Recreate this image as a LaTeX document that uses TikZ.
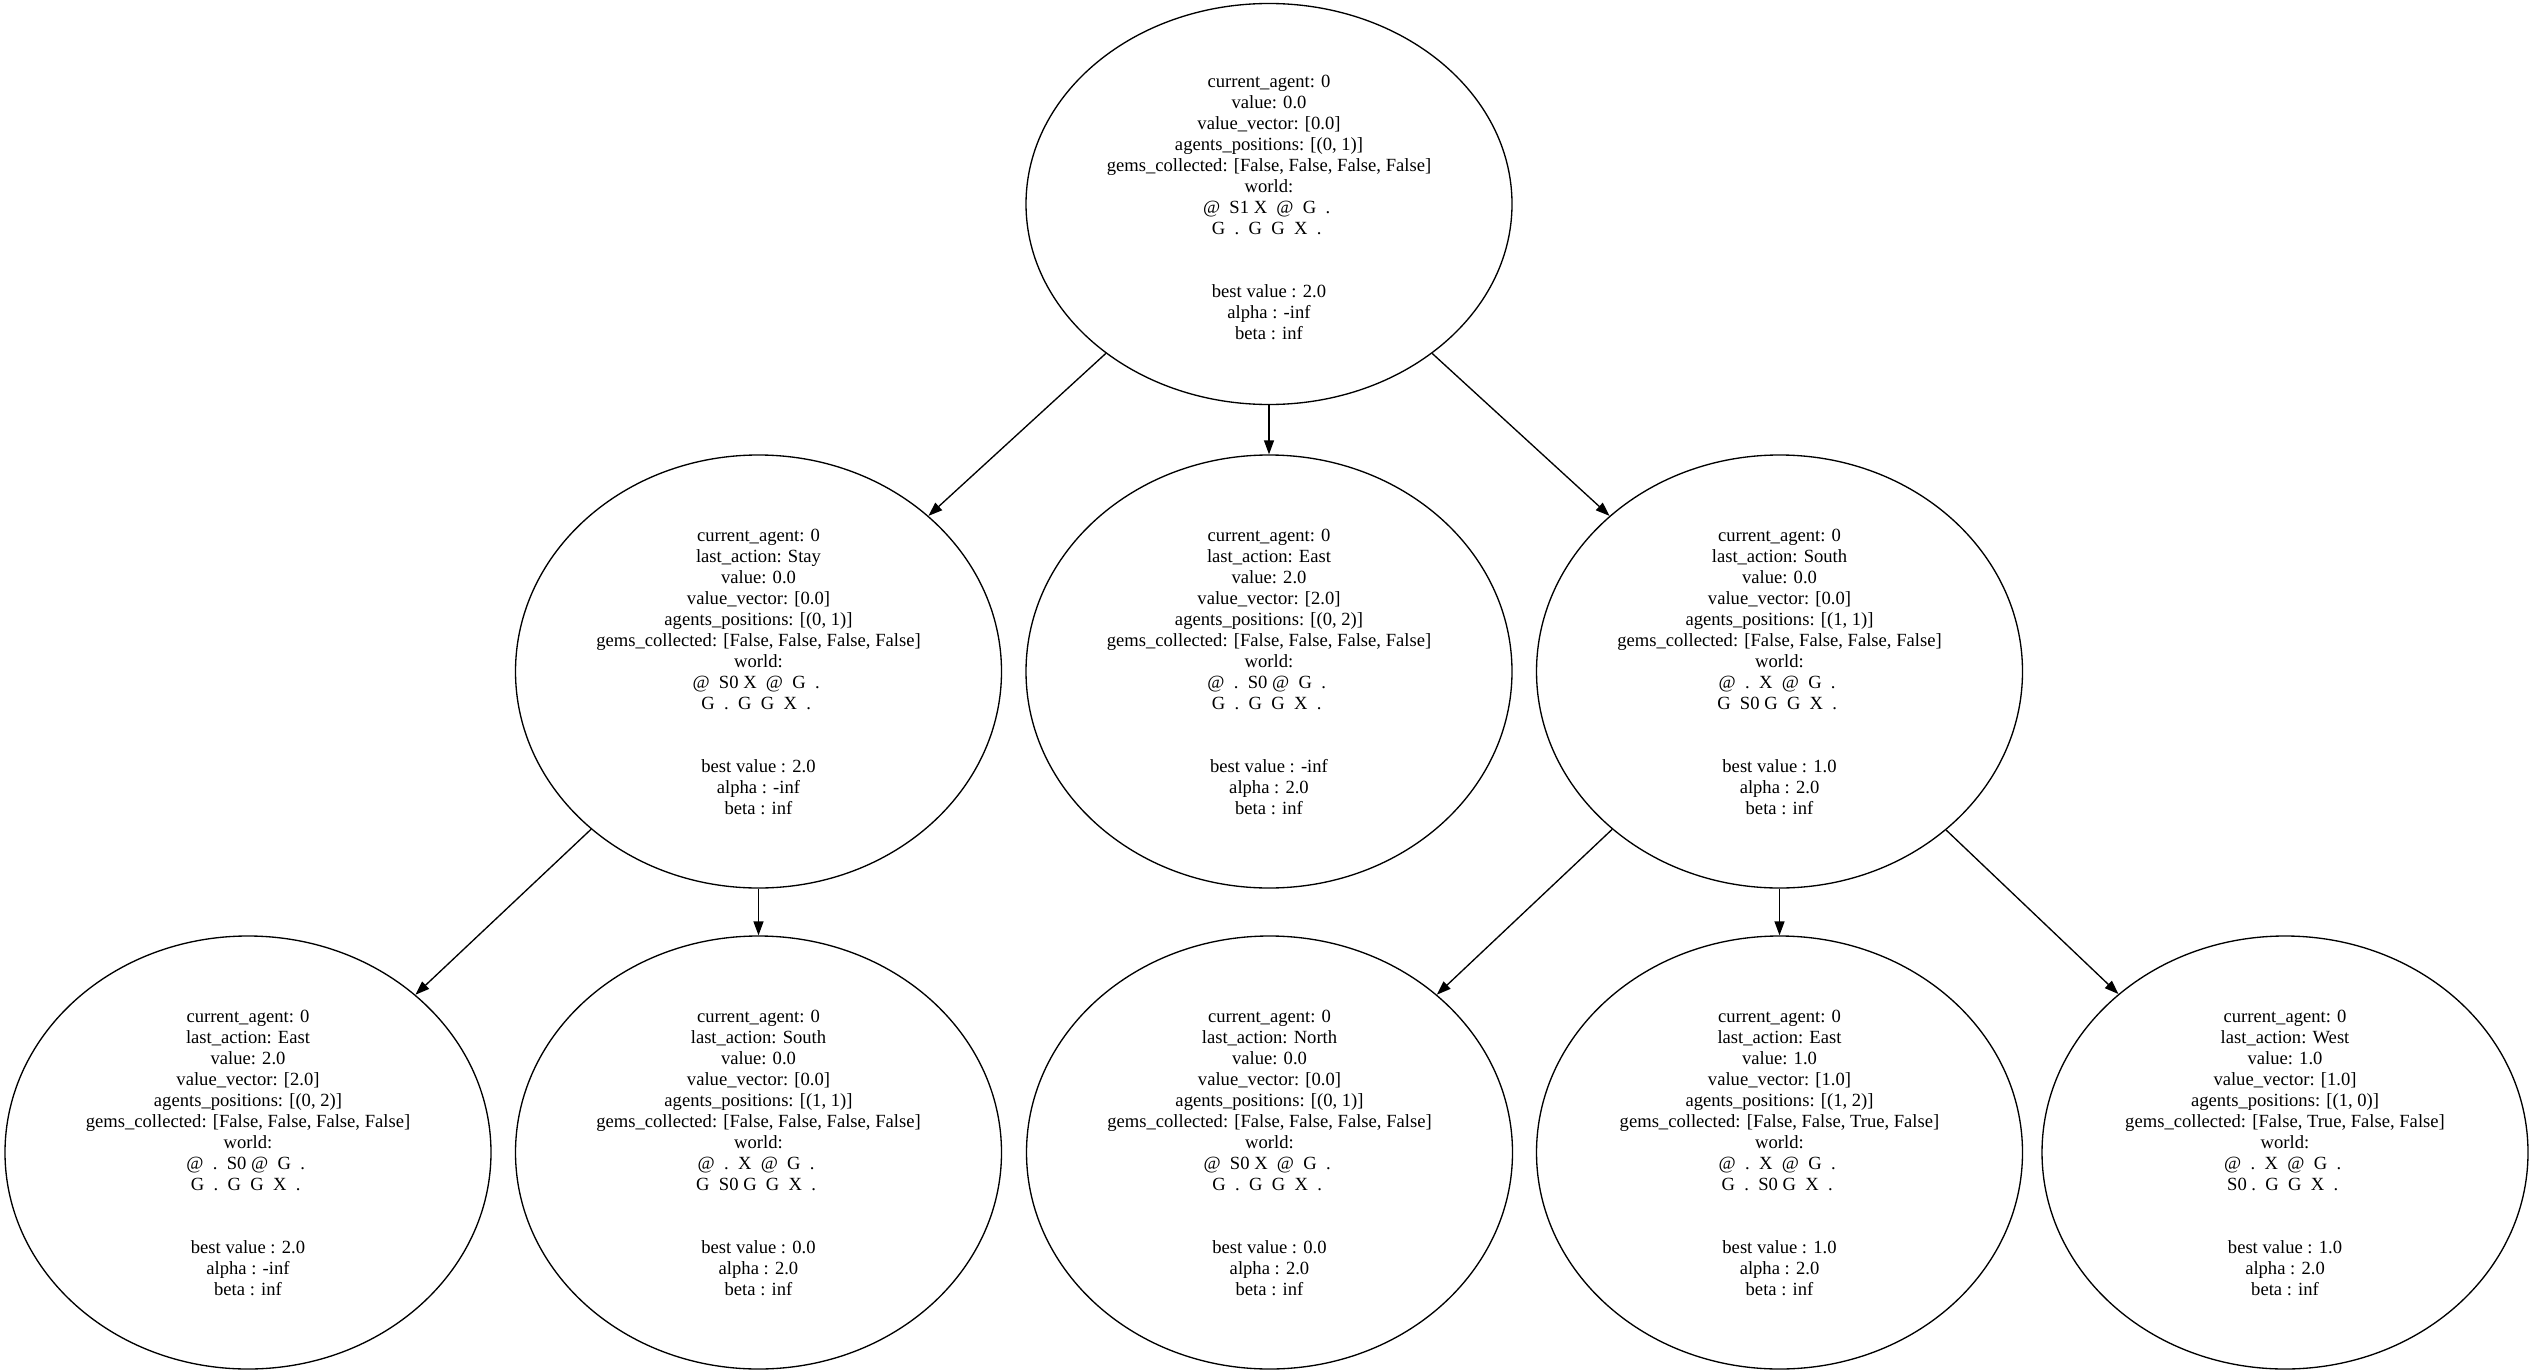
\documentclass[tikz,border=0pt]{standalone}
\usepackage{fontspec}
\setmainfont{Liberation Serif}
\usetikzlibrary{shapes.geometric,arrows.meta}
\begin{document}
\begin{tikzpicture}[x=1pt,y=-1pt,
  st/.style={ellipse, draw, line width=1.33pt, inner sep=0pt,
    minimum width=486pt, minimum height=433pt, align=center,
    font=\fontsize{18.6}{21}\selectfont},
  rootst/.style={st, minimum height=401pt},
  edge/.style={line width=1.33pt, -{Triangle[length=14pt,width=10pt]}}]
\useasboundingbox (0,0) rectangle (2531,1372);

\node[rootst] (r) at (1269,204) {\rule{0pt}{19pt}current\_agent: 0\\value: 0.0\\value\_vector: [0.0]\\agents\_positions: [(0, 1)]\\gems\_collected: [False, False, False, False]\\world:\\@~~S1~X~~@~~G~~.~\null\\G~~.~~G~~G~~X~~.~\null\\\null\\\null\\best value : 2.0\\alpha : -inf\\beta : inf};

\node[st] (a) at (758.5,671.5) {current\_agent: 0\\last\_action: Stay\\value: 0.0\\value\_vector: [0.0]\\agents\_positions: [(0, 1)]\\gems\_collected: [False, False, False, False]\\world:\\@~~S0~X~~@~~G~~.~\null\\G~~.~~G~~G~~X~~.~\null\\\null\\\null\\best value : 2.0\\alpha : -inf\\beta : inf};

\node[st] (b) at (1269,671.5) {current\_agent: 0\\last\_action: East\\value: 2.0\\value\_vector: [2.0]\\agents\_positions: [(0, 2)]\\gems\_collected: [False, False, False, False]\\world:\\@~~.~~S0~@~~G~~.~\null\\G~~.~~G~~G~~X~~.~\null\\\null\\\null\\best value : -inf\\alpha : 2.0\\beta : inf};

\node[st] (c) at (1779.5,671.5) {current\_agent: 0\\last\_action: South\\value: 0.0\\value\_vector: [0.0]\\agents\_positions: [(1, 1)]\\gems\_collected: [False, False, False, False]\\world:\\@~~.~~X~~@~~G~~.~\null\\G~~S0~G~~G~~X~~.~\null\\\null\\\null\\best value : 1.0\\alpha : 2.0\\beta : inf};

\node[st] (d) at (248,1152.5) {current\_agent: 0\\last\_action: East\\value: 2.0\\value\_vector: [2.0]\\agents\_positions: [(0, 2)]\\gems\_collected: [False, False, False, False]\\world:\\@~~.~~S0~@~~G~~.~\null\\G~~.~~G~~G~~X~~.~\null\\\null\\\null\\best value : 2.0\\alpha : -inf\\beta : inf};

\node[st] (e) at (758.5,1152.5) {current\_agent: 0\\last\_action: South\\value: 0.0\\value\_vector: [0.0]\\agents\_positions: [(1, 1)]\\gems\_collected: [False, False, False, False]\\world:\\@~~.~~X~~@~~G~~.~\null\\G~~S0~G~~G~~X~~.~\null\\\null\\\null\\best value : 0.0\\alpha : 2.0\\beta : inf};

\node[st] (f) at (1269.5,1152.5) {current\_agent: 0\\last\_action: North\\value: 0.0\\value\_vector: [0.0]\\agents\_positions: [(0, 1)]\\gems\_collected: [False, False, False, False]\\world:\\@~~S0~X~~@~~G~~.~\null\\G~~.~~G~~G~~X~~.~\null\\\null\\\null\\best value : 0.0\\alpha : 2.0\\beta : inf};

\node[st] (g) at (1779.5,1152.5) {current\_agent: 0\\last\_action: East\\value: 1.0\\value\_vector: [1.0]\\agents\_positions: [(1, 2)]\\gems\_collected: [False, False, True, False]\\world:\\@~~.~~X~~@~~G~~.~\null\\G~~.~~S0~G~~X~~.~\null\\\null\\\null\\best value : 1.0\\alpha : 2.0\\beta : inf};

\node[st] (h) at (2285,1152.5) {current\_agent: 0\\last\_action: West\\value: 1.0\\value\_vector: [1.0]\\agents\_positions: [(1, 0)]\\gems\_collected: [False, True, False, False]\\world:\\@~~.~~X~~@~~G~~.~\null\\S0~.~~G~~G~~X~~.~\null\\\null\\\null\\best value : 1.0\\alpha : 2.0\\beta : inf};

\draw[edge] (r) -- (a);
\draw[edge] (r) -- (b);
\draw[edge] (r) -- (c);
\draw[edge] (a) -- (d);
\draw[edge] (a) -- (e);
\draw[edge] (c) -- (f);
\draw[edge] (c) -- (g);
\draw[edge] (c) -- (h);
\end{tikzpicture}
\end{document}
